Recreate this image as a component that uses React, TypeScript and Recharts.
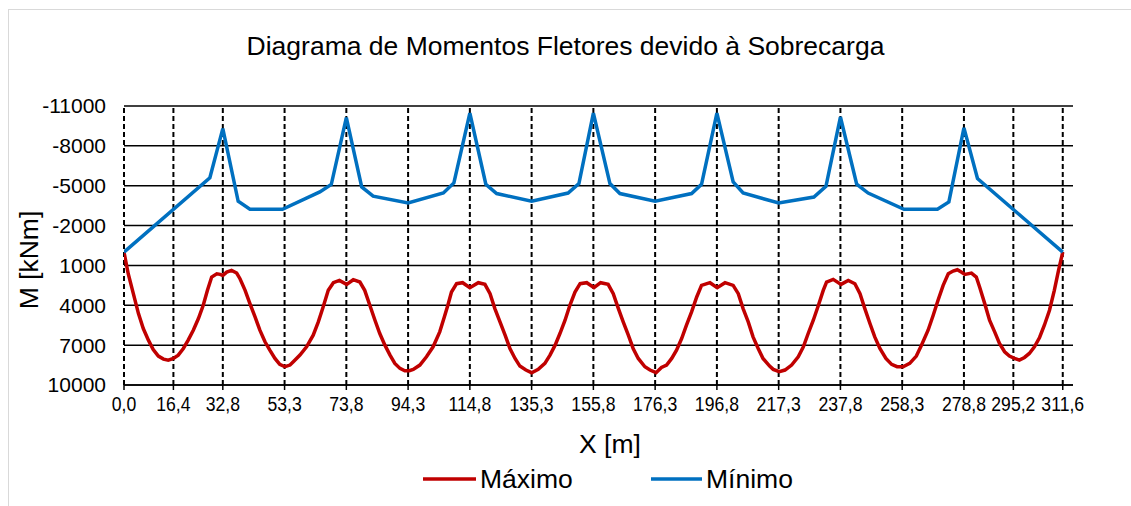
import React from 'react';
import { LineChart, Line, XAxis, YAxis, ReferenceLine } from 'recharts';

// Posições dos apoios / marcas do eixo X (m)
const xTicks = [0, 16.4, 32.8, 53.3, 73.8, 94.3, 114.8, 135.3, 155.8, 176.3, 196.8, 217.3, 237.8, 258.3, 278.8, 295.2, 311.6];
const yTicks = [-11000, -8000, -5000, -2000, 1000, 4000, 7000, 10000];

// Envoltória de momentos máximos (kNm)
const maxX = [
  0.0, 1.4, 3.1, 4.8, 6.4, 8.1, 9.7, 11.4, 13.1, 14.7, 16.4, 18.0, 19.7, 21.3, 23.0, 24.7, 26.3, 27.7, 29.1, 30.8,
  31.9, 32.8, 34.1, 35.7, 37.4, 38.5, 40.2, 41.8, 43.5, 45.1, 46.8, 48.4, 50.1, 51.7, 53.4, 55.1, 56.2, 58.4, 60.6,
  62.8, 64.5, 66.1, 67.8, 69.5, 71.5, 73.9, 76.1, 78.3, 79.9, 81.6, 83.3, 84.9, 86.6, 88.3, 89.9, 91.6, 93.2, 94.7,
  96.0, 98.2, 100.4, 102.6, 104.8, 106.3, 107.5, 108.7, 110.4, 112.4, 114.8, 117.6, 119.8, 121.5, 123.1, 124.8,
  126.5, 128.1, 129.8, 131.4, 133.4, 135.3, 137.5, 139.7, 141.4, 143.1, 144.7, 146.4, 148.0, 149.7, 151.4, 153.6,
  156.0, 158.2, 160.7, 162.4, 164.1, 165.7, 167.4, 169.0, 170.7, 172.9, 174.6, 176.6, 178.4, 180.1, 181.8, 183.4,
  185.1, 186.7, 188.4, 190.1, 191.7, 194.5, 196.9, 199.5, 202.2, 203.9, 205.5, 207.2, 208.8, 210.5, 212.1, 214.3,
  215.5, 217.5, 219.4, 221.6, 223.8, 225.5, 227.1, 228.8, 230.5, 232.1, 233.2, 235.4, 238.0, 240.4, 242.6, 244.3,
  245.9, 247.6, 249.2, 250.9, 252.9, 254.8, 256.6, 258.6, 260.8, 263.0, 264.7, 266.9, 268.6, 270.2, 271.9, 273.6,
  275.2, 276.6, 277.9, 279.1, 281.3, 282.9, 284.0, 285.7, 287.3, 289.0, 290.6, 292.3, 293.9, 295.6, 297.2, 298.9,
  300.5, 302.2, 303.9, 305.5, 307.2, 308.8, 310.2, 311.6,
];
const maxM = [
  0, 1625, 3125, 4625, 5750, 6625, 7325, 7825, 8050, 8125, 8000, 7750, 7250, 6625, 5875, 5000, 4000, 2875, 1875, 1625,
  1675, 1750, 1500, 1375, 1575, 2000, 2875, 3875, 4875, 5875, 6750, 7375, 8000, 8450, 8625, 8500, 8250, 7750, 7125,
  6250, 5250, 4125, 2875, 2300, 2125, 2425, 2075, 2250, 2875, 4000, 5125, 6125, 7000, 7750, 8375, 8750, 8925, 8925,
  8825, 8500, 7875, 7125, 6000, 4900, 4000, 3000, 2375, 2300, 2675, 2300, 2425, 3125, 4250, 5250,
  6250, 7250, 8000, 8575, 8875, 9075, 8825, 8375, 7750, 7000, 6125, 5125, 4000, 3000, 2375, 2300,
  2675, 2300, 2425, 3125, 4250, 5250, 6250, 7250, 8000, 8625, 8875, 9075, 8675, 8500, 8000, 7375,
  6500, 5500, 4500, 3375, 2500, 2300, 2675, 2300, 2500, 3125, 4250, 5250, 6375, 7250, 8000, 8575,
  8825, 9000, 8875, 8500, 7875, 7125, 6125, 5125, 4000, 2875, 2250, 2050, 2425, 2125, 2375, 3125,
  4250, 5375, 6375, 7250, 8000, 8450, 8625, 8625, 8375, 7825, 7000, 5875, 4750, 3625, 2500, 1625,
  1425, 1325, 1500, 1675, 1575, 1875, 2625, 3875, 5125, 6000, 6875, 7500, 7825, 8000, 8125, 7925,
  7625, 7125, 6425, 5500, 4375, 2875, 1375, 0,
];

// Envoltória de momentos mínimos (kNm)
const minX = [
  0, 28.5, 32.8, 37.9, 41.8, 52.6, 65.0, 68.8, 73.8, 78.9, 82.7, 94.3, 106.0, 109.5, 114.8, 120.1, 123.7, 135.3,
  147.4, 151.0, 155.8, 161.3, 164.6, 176.3, 188.4, 191.7, 196.8, 202.2, 205.5, 217.3, 229.0, 233.0, 237.8, 243.2,
  247.0, 258.9, 270.0, 273.8, 278.8, 283.3, 311.6,
];
const minM = [
  0, -5600, -9300, -3830, -3230, -3230, -4530, -5090, -10130, -4910, -4210, -3700, -4450, -5210, -10470, -5110, -4410, -3830,
  -4450, -5160, -10470, -5160, -4410, -3830, -4410, -5110, -10470, -5280, -4450, -3700, -4150, -4960, -10170, -5110,
  -4450, -3230, -3230, -3780, -9350, -5540, 0,
];

const maxData = maxX.map((x, i) => ({ x, m: maxM[i] }));
const minData = minX.map((x, i) => ({ x, m: minM[i] }));

const FONT = '"Liberation Sans", Arial, sans-serif';
const RED = '#C00000';
const BLUE = '#0070C0';

const fmtX = (v: number) => v.toFixed(1).replace('.', ',');

// rótulos do eixo X ficam levemente condensados, como no original
const XTick = ({ x, payload }: any) => (
  <text
    transform={`translate(${x},411) scale(0.86,1)`}
    textAnchor="middle"
    fontFamily={FONT}
    fontSize={20.5}
    fill="#000"
  >
    {fmtX(payload.value)}
  </text>
);

const YTick = ({ y, payload }: any) => (
  <text x={106} y={y} dy="0.355em" textAnchor="end" fontFamily={FONT} fontSize={21} fill="#000">
    {payload.value}
  </text>
);

export default function App() {
  return (
    <div style={{ position: 'absolute', left: 0, top: 0, width: 1131, height: 506, overflow: 'hidden', background: '#fff' }}>
      <div style={{ position: 'absolute', left: 8, top: 9, width: 1300, height: 700, border: '1px solid #d9d9d9' }} />
      <div style={{ position: 'absolute', left: 0, top: 0 }}>
        <LineChart width={1131} height={506} margin={{ top: 106, right: 58, bottom: 91, left: 64 }}>
          <XAxis
            type="number"
            dataKey="x"
            domain={[0, 315]}
            ticks={xTicks}
            interval={0}
            allowDataOverflow
            height={30}
            tick={<XTick />}
            tickSize={5}
            axisLine={{ stroke: '#000', strokeWidth: 1.5 }}
            tickLine={{ stroke: '#000', strokeWidth: 1.5 }}
          />
          <YAxis
            type="number"
            dataKey="m"
            domain={[-11000, 10000]}
            ticks={yTicks}
            interval={0}
            reversed
            allowDataOverflow
            width={60}
            tick={<YTick />}
            axisLine={false}
            tickLine={false}
          />
          {yTicks.map((t) => (
            <ReferenceLine key={'h' + t} y={t} stroke="#000" strokeWidth={1.5} />
          ))}
          {xTicks.map((t) => (
            <ReferenceLine key={'v' + t} x={t} stroke="#000" strokeWidth={2} strokeDasharray="5 3" />
          ))}
          <Line
            data={maxData}
            dataKey="m"
            name="Máximo"
            type="linear"
            stroke={RED}
            strokeWidth={3.5}
            dot={false}
            isAnimationActive={false}
          />
          <Line
            data={minData}
            dataKey="m"
            name="Mínimo"
            type="linear"
            stroke={BLUE}
            strokeWidth={3.5}
            dot={false}
            isAnimationActive={false}
          />
        </LineChart>
      </div>
      <svg width={1131} height={506} style={{ position: 'absolute', left: 0, top: 0, pointerEvents: 'none' }}>
        <text x={565.5} y={55} textAnchor="middle" fontFamily={FONT} fontSize={26.5} fill="#000">
          Diagrama de Momentos Fletores devido à Sobrecarga
        </text>
        <text transform="translate(38,260) rotate(-90)" textAnchor="middle" fontFamily={FONT} fontSize={26.5} fill="#000">
          M [kNm]
        </text>
        <text x={610} y={453} textAnchor="middle" fontFamily={FONT} fontSize={26.5} fill="#000">
          X [m]
        </text>
        <line x1={423} y1={479} x2={476} y2={479} stroke={RED} strokeWidth={3.5} />
        <text x={480} y={488} fontFamily={FONT} fontSize={26.5} fill="#000">Máximo</text>
        <line x1={651} y1={479} x2={702} y2={479} stroke={BLUE} strokeWidth={3.5} />
        <text x={706} y={488} fontFamily={FONT} fontSize={26.5} fill="#000">Mínimo</text>
      </svg>
    </div>
  );
}
